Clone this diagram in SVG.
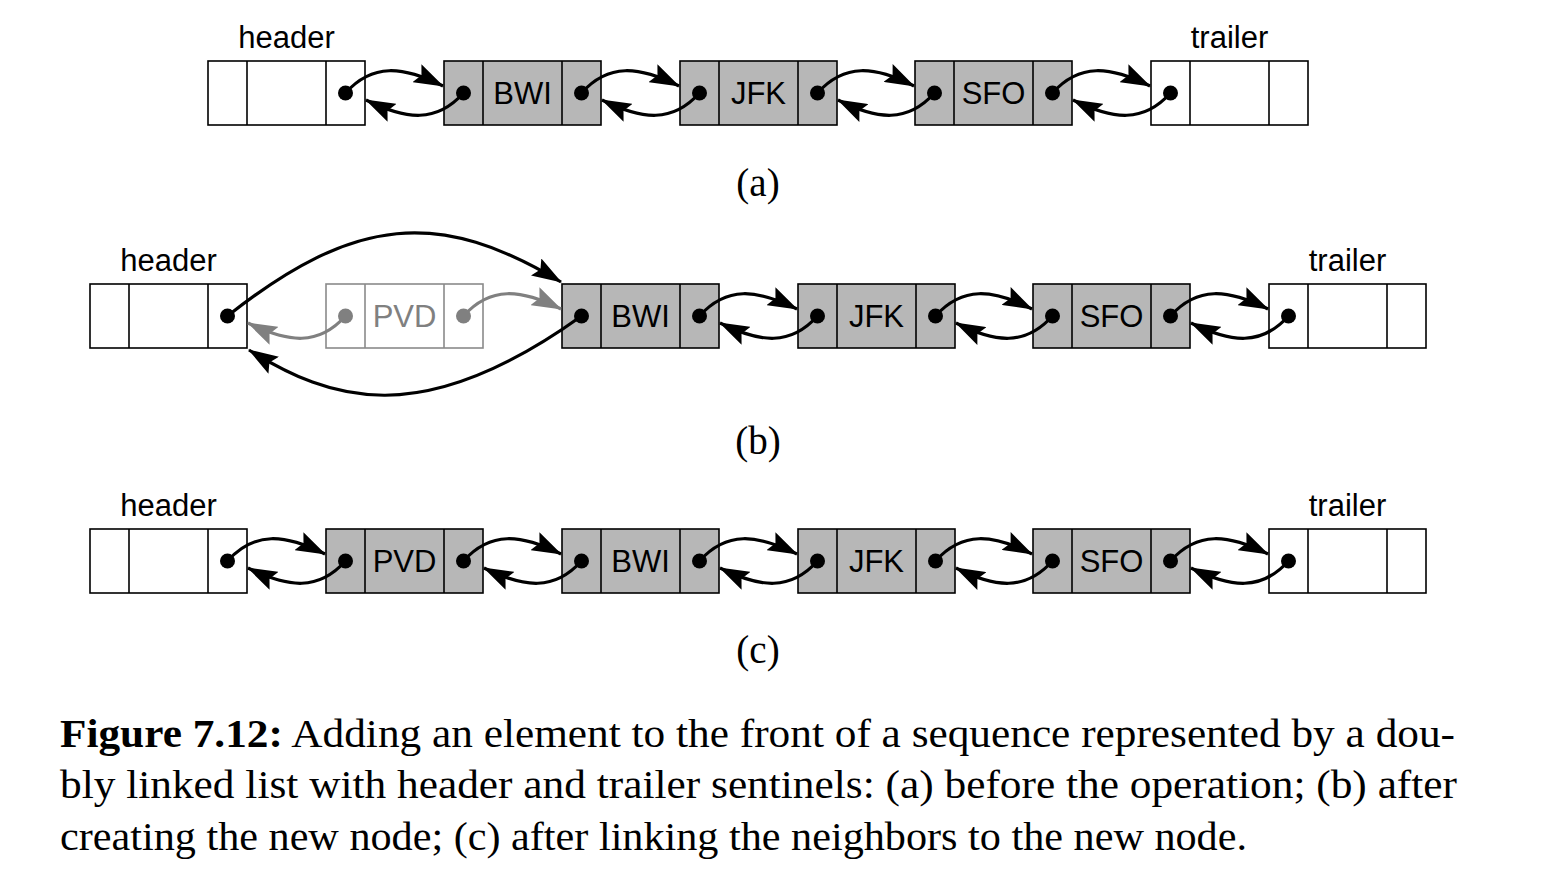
<svg xmlns="http://www.w3.org/2000/svg" width="1560" height="878" viewBox="0 0 1560 878">
<style>
.box{fill:#fff;stroke:#000;stroke-width:1.6}
.fbox{fill:#b7b7b7;stroke:#000;stroke-width:1.6}
.gbox{fill:#fff;stroke:#8a8a8a;stroke-width:1.6}
.div{stroke:#000;stroke-width:1.6}
.gdiv{stroke:#8a8a8a;stroke-width:1.6}
.dot{fill:#000}
.gdot{fill:#808080}
.lbl{font-family:"Liberation Sans",Arial,sans-serif;font-size:31px;fill:#000;text-anchor:middle}
.glbl{font-family:"Liberation Sans",Arial,sans-serif;font-size:31px;fill:#808080;text-anchor:middle}
.sub{font-family:"Liberation Serif","Times New Roman",serif;font-size:39px;fill:#000;text-anchor:middle}
.cap{font-family:"Liberation Serif","Times New Roman",serif;font-size:40px;fill:#000}
.c{fill:none;stroke:#000;stroke-width:3.2;marker-end:url(#ah)}
.g{fill:none;stroke:#808080;stroke-width:3.2;marker-end:url(#gah)}
</style>
<defs>
<marker id="ah" viewBox="0 0 30 20" refX="29" refY="10" markerWidth="30" markerHeight="20" markerUnits="userSpaceOnUse" orient="auto"><path d="M0,0 L30,10 L0,20 L5,10 Z" fill="#000"/></marker>
<marker id="gah" viewBox="0 0 30 20" refX="29" refY="10" markerWidth="30" markerHeight="20" markerUnits="userSpaceOnUse" orient="auto"><path d="M0,0 L30,10 L0,20 L5,10 Z" fill="#808080"/></marker>
</defs>

<!-- Row (a) -->
<g id="a-header" transform="translate(208,61)">
<rect class="box" width="157" height="64"/><line class="div" x1="39" y1="0" x2="39" y2="64"/><line class="div" x1="118" y1="0" x2="118" y2="64"/>
<circle class="dot" cx="137.5" cy="32" r="7.5"/>
<text class="lbl" x="78.5" y="-13">header</text>
</g>
<g id="a-bwi" transform="translate(444,61)">
<rect class="fbox" width="157" height="64"/><line class="div" x1="39" y1="0" x2="39" y2="64"/><line class="div" x1="118" y1="0" x2="118" y2="64"/>
<circle class="dot" cx="19.5" cy="32" r="7.5"/><circle class="dot" cx="137.5" cy="32" r="7.5"/>
<text class="lbl" x="78.5" y="43">BWI</text>
</g>
<g id="a-jfk" transform="translate(680,61)">
<rect class="fbox" width="157" height="64"/><line class="div" x1="39" y1="0" x2="39" y2="64"/><line class="div" x1="118" y1="0" x2="118" y2="64"/>
<circle class="dot" cx="19.5" cy="32" r="7.5"/><circle class="dot" cx="137.5" cy="32" r="7.5"/>
<text class="lbl" x="78.5" y="43">JFK</text>
</g>
<g id="a-sfo" transform="translate(915,61)">
<rect class="fbox" width="157" height="64"/><line class="div" x1="39" y1="0" x2="39" y2="64"/><line class="div" x1="118" y1="0" x2="118" y2="64"/>
<circle class="dot" cx="19.5" cy="32" r="7.5"/><circle class="dot" cx="137.5" cy="32" r="7.5"/>
<text class="lbl" x="78.5" y="43">SFO</text>
</g>
<g id="a-trailer" transform="translate(1151,61)">
<rect class="box" width="157" height="64"/><line class="div" x1="39" y1="0" x2="39" y2="64"/><line class="div" x1="118" y1="0" x2="118" y2="64"/>
<circle class="dot" cx="19.5" cy="32" r="7.5"/>
<text class="lbl" x="78.5" y="-13">trailer</text>
</g>
<text id="label-a" class="sub" x="758" y="196">(a)</text>

<!-- Row (b) -->
<g id="b-header" transform="translate(90,284)">
<rect class="box" width="157" height="64"/><line class="div" x1="39" y1="0" x2="39" y2="64"/><line class="div" x1="118" y1="0" x2="118" y2="64"/>
<circle class="dot" cx="137.5" cy="32" r="7.5"/>
<text class="lbl" x="78.5" y="-13">header</text>
</g>
<g id="b-pvd" transform="translate(326,284)">
<rect class="gbox" width="157" height="64"/><line class="gdiv" x1="39" y1="0" x2="39" y2="64"/><line class="gdiv" x1="118" y1="0" x2="118" y2="64"/>
<circle class="gdot" cx="19.5" cy="32" r="7.5"/><circle class="gdot" cx="137.5" cy="32" r="7.5"/>
<text class="glbl" x="78.5" y="43">PVD</text>
</g>
<g id="b-bwi" transform="translate(562,284)">
<rect class="fbox" width="157" height="64"/><line class="div" x1="39" y1="0" x2="39" y2="64"/><line class="div" x1="118" y1="0" x2="118" y2="64"/>
<circle class="dot" cx="19.5" cy="32" r="7.5"/><circle class="dot" cx="137.5" cy="32" r="7.5"/>
<text class="lbl" x="78.5" y="43">BWI</text>
</g>
<g id="b-jfk" transform="translate(798,284)">
<rect class="fbox" width="157" height="64"/><line class="div" x1="39" y1="0" x2="39" y2="64"/><line class="div" x1="118" y1="0" x2="118" y2="64"/>
<circle class="dot" cx="19.5" cy="32" r="7.5"/><circle class="dot" cx="137.5" cy="32" r="7.5"/>
<text class="lbl" x="78.5" y="43">JFK</text>
</g>
<g id="b-sfo" transform="translate(1033,284)">
<rect class="fbox" width="157" height="64"/><line class="div" x1="39" y1="0" x2="39" y2="64"/><line class="div" x1="118" y1="0" x2="118" y2="64"/>
<circle class="dot" cx="19.5" cy="32" r="7.5"/><circle class="dot" cx="137.5" cy="32" r="7.5"/>
<text class="lbl" x="78.5" y="43">SFO</text>
</g>
<g id="b-trailer" transform="translate(1269,284)">
<rect class="box" width="157" height="64"/><line class="div" x1="39" y1="0" x2="39" y2="64"/><line class="div" x1="118" y1="0" x2="118" y2="64"/>
<circle class="dot" cx="19.5" cy="32" r="7.5"/>
<text class="lbl" x="78.5" y="-13">trailer</text>
</g>
<text id="label-b" class="sub" x="758" y="454">(b)</text>

<!-- Row (c) -->
<g id="c-header" transform="translate(90,529)">
<rect class="box" width="157" height="64"/><line class="div" x1="39" y1="0" x2="39" y2="64"/><line class="div" x1="118" y1="0" x2="118" y2="64"/>
<circle class="dot" cx="137.5" cy="32" r="7.5"/>
<text class="lbl" x="78.5" y="-13">header</text>
</g>
<g id="c-pvd" transform="translate(326,529)">
<rect class="fbox" width="157" height="64"/><line class="div" x1="39" y1="0" x2="39" y2="64"/><line class="div" x1="118" y1="0" x2="118" y2="64"/>
<circle class="dot" cx="19.5" cy="32" r="7.5"/><circle class="dot" cx="137.5" cy="32" r="7.5"/>
<text class="lbl" x="78.5" y="43">PVD</text>
</g>
<g id="c-bwi" transform="translate(562,529)">
<rect class="fbox" width="157" height="64"/><line class="div" x1="39" y1="0" x2="39" y2="64"/><line class="div" x1="118" y1="0" x2="118" y2="64"/>
<circle class="dot" cx="19.5" cy="32" r="7.5"/><circle class="dot" cx="137.5" cy="32" r="7.5"/>
<text class="lbl" x="78.5" y="43">BWI</text>
</g>
<g id="c-jfk" transform="translate(798,529)">
<rect class="fbox" width="157" height="64"/><line class="div" x1="39" y1="0" x2="39" y2="64"/><line class="div" x1="118" y1="0" x2="118" y2="64"/>
<circle class="dot" cx="19.5" cy="32" r="7.5"/><circle class="dot" cx="137.5" cy="32" r="7.5"/>
<text class="lbl" x="78.5" y="43">JFK</text>
</g>
<g id="c-sfo" transform="translate(1033,529)">
<rect class="fbox" width="157" height="64"/><line class="div" x1="39" y1="0" x2="39" y2="64"/><line class="div" x1="118" y1="0" x2="118" y2="64"/>
<circle class="dot" cx="19.5" cy="32" r="7.5"/><circle class="dot" cx="137.5" cy="32" r="7.5"/>
<text class="lbl" x="78.5" y="43">SFO</text>
</g>
<g id="c-trailer" transform="translate(1269,529)">
<rect class="box" width="157" height="64"/><line class="div" x1="39" y1="0" x2="39" y2="64"/><line class="div" x1="118" y1="0" x2="118" y2="64"/>
<circle class="dot" cx="19.5" cy="32" r="7.5"/>
<text class="lbl" x="78.5" y="-13">trailer</text>
</g>
<text id="label-c" class="sub" x="758" y="663">(c)</text>

<g id="connectors">
<!-- (a) -->
<path class="c" d="M345.5,93 C372.5,63 402.5,66 443,86"/>
<path class="c" d="M463.5,93 C436.5,123 406.5,120 366,100"/>
<path class="c" d="M581.5,93 C608.5,63 638.5,66 679,86"/>
<path class="c" d="M699.5,93 C672.5,123 642.5,120 602,100"/>
<path class="c" d="M817.5,93 C844.5,63 874.5,66 914,86"/>
<path class="c" d="M934.5,93 C907.5,123 877.5,120 838,100"/>
<path class="c" d="M1052.5,93 C1079.5,63 1109.5,66 1150,86"/>
<path class="c" d="M1170.5,93 C1143.5,123 1113.5,120 1073,100"/>
<!-- (b) -->
<path class="c" d="M227.5,316 C355,215 440,209 561,282"/>
<path class="c" d="M581.5,316 C420,432 330,400 249,350"/>
<path class="g" d="M463.5,316 C490.5,286 520.5,289 561,309"/>
<path class="g" d="M345.5,316 C318.5,346 288.5,343 248,323"/>
<path class="c" d="M699.5,316 C726.5,286 756.5,289 797,309"/>
<path class="c" d="M817.5,316 C790.5,346 760.5,343 720,323"/>
<path class="c" d="M935.5,316 C962.5,286 992.5,289 1032,309"/>
<path class="c" d="M1052.5,316 C1025.5,346 995.5,343 956,323"/>
<path class="c" d="M1170.5,316 C1197.5,286 1227.5,289 1268,309"/>
<path class="c" d="M1288.5,316 C1261.5,346 1231.5,343 1191,323"/>
<!-- (c) -->
<path class="c" d="M227.5,561 C254.5,531 284.5,534 325,554"/>
<path class="c" d="M345.5,561 C318.5,591 288.5,588 248,568"/>
<path class="c" d="M463.5,561 C490.5,531 520.5,534 561,554"/>
<path class="c" d="M581.5,561 C554.5,591 524.5,588 484,568"/>
<path class="c" d="M699.5,561 C726.5,531 756.5,534 797,554"/>
<path class="c" d="M817.5,561 C790.5,591 760.5,588 720,568"/>
<path class="c" d="M935.5,561 C962.5,531 992.5,534 1032,554"/>
<path class="c" d="M1052.5,561 C1025.5,591 995.5,588 956,568"/>
<path class="c" d="M1170.5,561 C1197.5,531 1227.5,534 1268,554"/>
<path class="c" d="M1288.5,561 C1261.5,591 1231.5,588 1191,568"/>
</g>

<g id="caption">
<text class="cap" x="60" y="747" textLength="1395" lengthAdjust="spacingAndGlyphs"><tspan font-weight="bold">Figure 7.12:</tspan>  Adding an element to the front of a sequence represented by a dou-</text>
<text class="cap" x="60" y="798" textLength="1397" lengthAdjust="spacingAndGlyphs">bly linked list with header and trailer sentinels: (a) before the operation; (b) after</text>
<text class="cap" x="60" y="850" textLength="1187" lengthAdjust="spacingAndGlyphs">creating the new node; (c) after linking the neighbors to the new node.</text>
</g>
</svg>
